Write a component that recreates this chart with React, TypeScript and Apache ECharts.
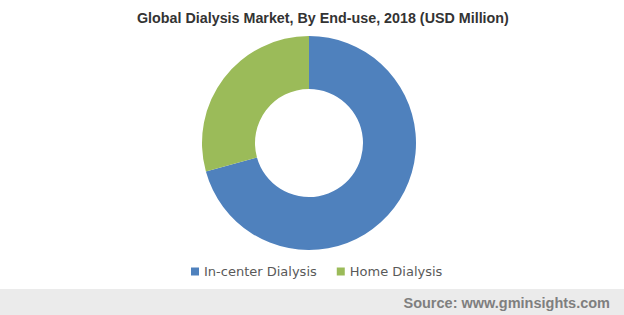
import React, { useEffect, useRef } from "react";
import * as echarts from "echarts";

const categories = ["In-center Dialysis", "Home Dialysis"];
const values = [70.7, 29.3];
const colors = ["#4f81bd", "#9bbb59"];
const titleText = "Global Dialysis Market, By End-use, 2018 (USD Million)";
const sourceText = "Source: www.gminsights.com";

export default function App() {
  const ref = useRef<HTMLDivElement>(null);
  useEffect(() => {
    document.body.style.margin = "0";
    const chart = echarts.init(ref.current!, null, { renderer: "svg" });
    chart.setOption({
      animation: false,
      backgroundColor: "#ffffff",
      title: {
        text: titleText,
        left: 132,
        top: 6,
        textStyle: {
          fontFamily: "Liberation Sans, Arial, sans-serif",
          fontSize: 14.3,
          fontWeight: "bold",
          color: "#333333",
        },
      },
      legend: {
        data: categories,
        left: 186,
        top: 260,
        icon: "rect",
        itemWidth: 8,
        itemHeight: 8,
        itemGap: 20,
        textStyle: {
          fontFamily: "DejaVu Sans, Verdana, sans-serif",
          fontSize: 13,
          color: "#595959",
        },
      },
      graphic: [
        {
          type: "rect",
          left: 0,
          top: 289,
          shape: { width: 624, height: 26 },
          style: { fill: "#ebebeb" },
          silent: true,
        },
        {
          type: "text",
          right: 14,
          top: 295,
          style: {
            text: sourceText,
            fill: "#7f7f7f",
            font: "bold 14.5px Liberation Sans, Arial, sans-serif",
          },
        },
      ],
      series: [
        {
          type: "pie",
          center: [309, 143],
          radius: [54, 107],
          startAngle: 90,
          clockwise: true,
          label: { show: false },
          labelLine: { show: false },
          itemStyle: { borderWidth: 0 },
          data: categories.map((name, i) => ({
            name,
            value: values[i],
            itemStyle: { color: colors[i] },
          })),
        },
      ],
    });
    return () => chart.dispose();
  }, []);
  return (
    <div
      ref={ref}
      style={{ position: "fixed", left: 0, top: 0, width: 624, height: 315 }}
    />
  );
}
